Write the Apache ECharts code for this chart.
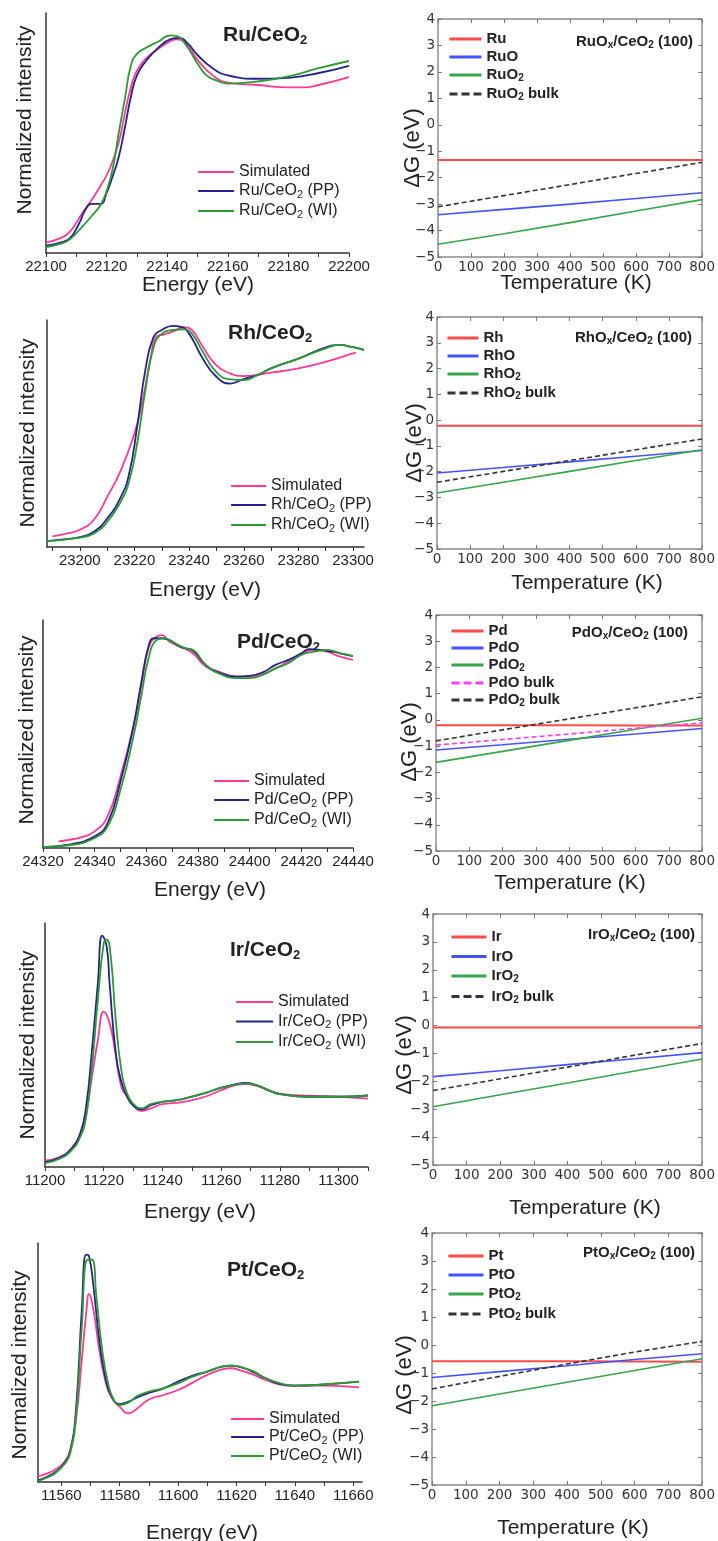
<!DOCTYPE html>
<html>
<head>
<meta charset="utf-8">
<script src="https://cdn.jsdelivr.net/npm/echarts@6/dist/echarts.min.js"></script>
<style>
html, body { margin: 0; padding: 0; background: #fff; }
#chart { width: 718px; height: 1541px; }
</style>
</head>
<body>
<div id="chart"></div>
<script>
// ---------- XANES spectra (left column), [energy, normalized intensity] ----------
const ruSim = [[22100,0.044],[22105,0.063],[22108,0.09],[22112,0.167],[22115,0.22],[22118,0.28],[22121,0.35],[22124,0.46],[22126,0.58],[22128,0.69],[22130,0.76],[22133,0.81],[22137,0.85],[22140,0.875],[22143,0.89],[22146,0.875],[22150,0.805],[22155,0.74],[22160,0.71],[22170,0.70],[22180,0.69],[22185,0.69],[22190,0.70],[22200,0.733]];
const ruPP  = [[22100,0.031],[22105,0.044],[22108,0.063],[22111,0.125],[22113,0.18],[22115,0.205],[22118,0.205],[22120,0.25],[22122,0.32],[22124,0.40],[22126,0.52],[22128,0.65],[22130,0.74],[22133,0.80],[22137,0.855],[22141,0.89],[22144,0.896],[22147,0.87],[22150,0.825],[22155,0.77],[22160,0.74],[22170,0.726],[22180,0.73],[22190,0.75],[22200,0.78]];
const ruWI  = [[22100,0.025],[22105,0.039],[22108,0.058],[22112,0.11],[22115,0.153],[22118,0.2],[22120,0.257],[22122,0.35],[22124,0.5],[22126,0.64],[22128,0.78],[22130,0.83],[22133,0.855],[22137,0.88],[22141,0.907],[22143,0.905],[22146,0.87],[22150,0.79],[22153,0.74],[22157,0.715],[22160,0.706],[22170,0.715],[22180,0.736],[22190,0.77],[22200,0.8]];

const rhSim = [[23190,0.047],[23195,0.059],[23200,0.076],[23205,0.118],[23210,0.22],[23215,0.338],[23220,0.5],[23223,0.647],[23226,0.838],[23228,0.926],[23231,0.937],[23234,0.949],[23238,0.968],[23241,0.956],[23245,0.882],[23250,0.80],[23255,0.765],[23260,0.753],[23270,0.768],[23280,0.787],[23290,0.816],[23300,0.853],[23301,0.856]];
const rhPP  = [[23188,0.026],[23195,0.035],[23200,0.044],[23205,0.066],[23210,0.125],[23215,0.22],[23218,0.32],[23221,0.53],[23224,0.78],[23227,0.926],[23230,0.956],[23234,0.974],[23237,0.97],[23240,0.94],[23245,0.83],[23250,0.75],[23255,0.72],[23260,0.74],[23265,0.757],[23270,0.787],[23280,0.83],[23290,0.88],[23295,0.89],[23300,0.88],[23304,0.868]];
const rhWI  = [[23188,0.026],[23200,0.041],[23205,0.059],[23210,0.11],[23215,0.2],[23218,0.287],[23221,0.456],[23224,0.69],[23227,0.88],[23230,0.94],[23234,0.956],[23238,0.959],[23241,0.94],[23245,0.86],[23250,0.77],[23255,0.738],[23260,0.735],[23265,0.757],[23270,0.787],[23280,0.83],[23290,0.875],[23295,0.89],[23300,0.88],[23304,0.868]];

const pdSim = [[24326,0.029],[24330,0.036],[24335,0.048],[24340,0.073],[24345,0.139],[24350,0.314],[24355,0.533],[24358,0.708],[24361,0.883],[24364,0.927],[24366,0.934],[24369,0.905],[24373,0.883],[24378,0.854],[24383,0.796],[24388,0.774],[24395,0.752],[24400,0.752],[24405,0.763],[24410,0.788],[24415,0.818],[24420,0.85],[24425,0.869],[24430,0.861],[24435,0.839],[24440,0.825]];
const pdPP  = [[24320,0.004],[24330,0.015],[24340,0.051],[24345,0.109],[24350,0.292],[24355,0.533],[24358,0.723],[24361,0.891],[24363,0.92],[24366,0.92],[24369,0.912],[24373,0.883],[24378,0.865],[24383,0.803],[24388,0.77],[24395,0.752],[24400,0.755],[24405,0.77],[24410,0.803],[24415,0.825],[24420,0.854],[24423,0.872],[24430,0.865],[24435,0.854],[24440,0.842]];
const pdWI  = [[24320,0.004],[24330,0.012],[24340,0.044],[24345,0.095],[24350,0.255],[24355,0.489],[24358,0.664],[24361,0.839],[24364,0.912],[24367,0.92],[24370,0.905],[24375,0.876],[24378,0.869],[24383,0.803],[24388,0.766],[24395,0.745],[24400,0.745],[24405,0.759],[24410,0.788],[24415,0.81],[24420,0.847],[24425,0.861],[24430,0.869],[24435,0.854],[24440,0.842]];

const irSim = [[11200,0.027],[11205,0.041],[11209,0.075],[11212,0.137],[11214,0.219],[11216,0.37],[11218,0.52],[11220,0.637],[11222,0.589],[11224,0.466],[11226,0.329],[11228,0.288],[11230,0.253],[11233,0.23],[11236,0.24],[11240,0.258],[11245,0.263],[11250,0.274],[11255,0.29],[11260,0.315],[11265,0.336],[11268,0.34],[11272,0.333],[11276,0.315],[11280,0.301],[11290,0.292],[11300,0.288],[11310,0.28]];
const irPP  = [[11200,0.021],[11205,0.038],[11209,0.075],[11212,0.137],[11214,0.247],[11216,0.479],[11218,0.753],[11219.5,0.948],[11221,0.904],[11222,0.753],[11224,0.479],[11226,0.349],[11228,0.288],[11230,0.253],[11233,0.236],[11236,0.253],[11240,0.267],[11245,0.274],[11250,0.288],[11255,0.305],[11260,0.325],[11265,0.34],[11268,0.345],[11272,0.336],[11276,0.315],[11280,0.299],[11290,0.288],[11300,0.288],[11310,0.293]];
const irWI  = [[11200,0.016],[11205,0.034],[11209,0.068],[11212,0.123],[11214,0.205],[11216,0.41],[11218,0.685],[11220,0.918],[11221,0.932],[11222.5,0.849],[11224,0.616],[11226,0.397],[11228,0.301],[11230,0.26],[11233,0.24],[11236,0.258],[11240,0.267],[11245,0.274],[11250,0.288],[11255,0.305],[11260,0.325],[11265,0.338],[11268,0.342],[11272,0.336],[11276,0.315],[11280,0.299],[11290,0.288],[11300,0.288],[11310,0.293]];

const ptSim = [[11552,0.024],[11555,0.035],[11558,0.052],[11561,0.084],[11563,0.133],[11565,0.259],[11567,0.51],[11568.5,0.706],[11569.5,0.787],[11571,0.72],[11573,0.552],[11575,0.427],[11577,0.357],[11580,0.315],[11583,0.287],[11586,0.308],[11590,0.345],[11595,0.364],[11600,0.385],[11605,0.416],[11610,0.448],[11615,0.471],[11618,0.476],[11622,0.465],[11626,0.448],[11630,0.427],[11635,0.408],[11640,0.403],[11650,0.403],[11662,0.396]];
const ptPP  = [[11552,0.007],[11555,0.021],[11558,0.042],[11561,0.077],[11563,0.126],[11565,0.301],[11567,0.72],[11568.5,0.951],[11569.5,0.944],[11571,0.818],[11573,0.594],[11575,0.441],[11577,0.364],[11580,0.326],[11583,0.336],[11586,0.354],[11590,0.373],[11595,0.392],[11600,0.42],[11605,0.445],[11610,0.462],[11615,0.483],[11618,0.487],[11622,0.478],[11626,0.458],[11630,0.434],[11635,0.41],[11640,0.403],[11650,0.408],[11662,0.42]];
const ptWI  = [[11552,0.004],[11555,0.018],[11558,0.038],[11561,0.074],[11563,0.119],[11565,0.273],[11567,0.65],[11569,0.93],[11570.5,0.93],[11572,0.776],[11574,0.552],[11576,0.413],[11578,0.343],[11580,0.322],[11583,0.332],[11586,0.36],[11590,0.378],[11595,0.392],[11600,0.413],[11605,0.441],[11610,0.462],[11615,0.483],[11618,0.487],[11622,0.48],[11626,0.462],[11630,0.434],[11635,0.413],[11640,0.403],[11650,0.408],[11662,0.42]];

// x tick labels of the spectra
const ruLabels = [22100, 22120, 22140, 22160, 22180, 22200];
const rhLabels = [23200, 23220, 23240, 23260, 23280, 23300];
const pdLabels = [24320, 24340, 24360, 24380, 24400, 24420, 24440];
const irLabels = [11200, 11220, 11240, 11260, 11280, 11300];
const ptLabels = [11560, 11580, 11600, 11620, 11640, 11660];

// ---------- Free energy vs temperature (right column), ΔG in eV ----------
const temps = [0, 200, 400, 600, 800];
const gRu     = [-1.33, -1.33, -1.33, -1.33, -1.33];
const gRuO    = [-3.40, -3.20, -3.00, -2.79, -2.57];
const gRuO2   = [-4.52, -4.12, -3.70, -3.26, -2.83];
const gRuO2b  = [-3.10, -2.68, -2.26, -1.84, -1.42];
const gRh     = [-0.22, -0.22, -0.22, -0.22, -0.22];
const gRhO    = [-2.05, -1.84, -1.62, -1.40, -1.18];
const gRhO2   = [-2.83, -2.41, -1.99, -1.57, -1.15];
const gRhO2b  = [-2.41, -1.99, -1.57, -1.15, -0.73];
const gPd     = [-0.20, -0.20, -0.20, -0.21, -0.21];
const gPdO    = [-1.15, -0.95, -0.74, -0.54, -0.33];
const gPdO2   = [-1.62, -1.20, -0.78, -0.36, 0.06];
const gPdOb   = [-0.96, -0.75, -0.54, -0.32, -0.11];
const gPdO2b  = [-0.80, -0.38, 0.04, 0.46, 0.88];
const gIr     = [-0.07, -0.07, -0.07, -0.07, -0.07];
const gIrO    = [-1.83, -1.62, -1.40, -1.19, -0.97];
const gIrO2   = [-2.91, -2.48, -2.06, -1.63, -1.20];
const gIrO2b  = [-2.33, -1.91, -1.49, -1.06, -0.64];
const gPt     = [-0.58, -0.58, -0.58, -0.59, -0.60];
const gPtO    = [-1.16, -0.95, -0.74, -0.52, -0.31];
const gPtO2   = [-2.17, -1.75, -1.33, -0.91, -0.49];
const gPtO2b  = [-1.57, -1.12, -0.68, -0.25, 0.13];

const FONT = '"Liberation Sans", Arial, sans-serif';
const MPL = '"DejaVu Sans", sans-serif';
const C_SIM = '#ff3a94', C_PP = '#23238a', C_WI = '#2e9a34';
const C_R = '#ff4a4a', C_B = '#4553ff', C_G = '#36a648', C_K = '#333', C_M = '#ff3cff';

// 'RuO2 bulk' -> rich text with subscript
const sub = s => '{n|' + s.replace(/O([2x])/g, 'O}{s|$1}{n|') + '}';
const range = (a, b, st) => { const r = []; for (let v = a; v <= b + 1e-9; v += st) r.push(v); return r; };

const leftPanels = [
  { el: 'Ru', grid: { left: 46, top: 13, width: 303, height: 240 }, min: 22100, max: 22200, ticks: range(22100, 22200, 10), labels: ruLabels, data: [ruSim, ruPP, ruWI], legend: { left: 197, top: 164, w: 36, gap: 3 } },
  { el: 'Rh', grid: { left: 47, top: 320, width: 317, height: 227 }, min: 23188, max: 23304, ticks: range(23190, 23300, 10), labels: rhLabels, data: [rhSim, rhPP, rhWI], legend: { left: 230, top: 478, w: 35, gap: 3 } },
  { el: 'Pd', grid: { left: 43, top: 620, width: 310, height: 228 }, min: 24320, max: 24440, ticks: range(24320, 24440, 10), labels: pdLabels, data: [pdSim, pdPP, pdWI], legend: { left: 213, top: 773, w: 35, gap: 3 } },
  { el: 'Ir', grid: { left: 45, top: 923, width: 323, height: 244 }, min: 11200, max: 11310, ticks: range(11200, 11310, 10), labels: irLabels, data: [irSim, irPP, irWI], legend: { left: 235, top: 994, w: 37, gap: 3.5 } },
  { el: 'Pt', grid: { left: 38, top: 1243, width: 324, height: 239 }, min: 11552, max: 11663, ticks: range(11560, 11660, 10), labels: ptLabels, data: [ptSim, ptPP, ptWI], legend: { left: 230, top: 1411, w: 33, gap: 2 } }
];

const rightPanels = [
  { el: 'Ru', grid: { left: 438, top: 19, width: 265, height: 238 }, lines: [gRu, gRuO, gRuO2, gRuO2b], legend: { left: 448, top: 31.5, w: 32, gap: 3 } },
  { el: 'Rh', grid: { left: 437, top: 317, width: 266, height: 232 }, lines: [gRh, gRhO, gRhO2, gRhO2b], legend: { left: 446, top: 330.5, w: 31, gap: 3 } },
  { el: 'Pd', grid: { left: 436, top: 615, width: 267, height: 236 }, lines: [gPd, gPdO, gPdO2, gPdOb, gPdO2b], legend: { left: 450, top: 623.5, w: 32, gap: 2 } },
  { el: 'Ir', grid: { left: 433, top: 914, width: 271, height: 251 }, lines: [gIr, gIrO, gIrO2, gIrO2b], legend: { left: 450, top: 929.5, w: 35, gap: 4.5 } },
  { el: 'Pt', grid: { left: 432, top: 1233, width: 272, height: 252 }, lines: [gPt, gPtO, gPtO2, gPtO2b], legend: { left: 447, top: 1248.5, w: 35, gap: 4 } }
];

const grid = [], xAxis = [], yAxis = [], series = [], legend = [], graphic = [];

leftPanels.forEach(p => {
  const gi = grid.length;
  grid.push(Object.assign({ containLabel: false }, p.grid));
  const xi = xAxis.length, yi = yAxis.length;
  xAxis.push({
    type: 'value', gridIndex: gi, min: p.min, max: p.max,
    axisLine: { onZero: false, lineStyle: { color: '#333', width: 1.5 } },
    axisTick: { show: true, length: 4, lineStyle: { color: '#333', width: 1 }, customValues: p.ticks },
    axisLabel: { customValues: p.labels, formatter: v => String(v), fontFamily: FONT, fontSize: 15, color: '#222', margin: 6 },
    splitLine: { show: false }
  });
  yAxis.push({
    type: 'value', gridIndex: gi, min: 0, max: 1,
    axisLine: { show: true, onZero: false, lineStyle: { color: '#333', width: 1.5 } },
    axisTick: { show: false }, axisLabel: { show: false }, splitLine: { show: false }
  });
  const names = ['Simulated', p.el + '/CeO2 (PP)', p.el + '/CeO2 (WI)'];
  const cols = [C_SIM, C_PP, C_WI];
  p.data.forEach((d, k) => {
    series.push({
      type: 'line', name: names[k], xAxisIndex: xi, yAxisIndex: yi, data: d,
      symbol: 'none', smooth: 0.5,
      lineStyle: { color: cols[k], width: 1.8 }, itemStyle: { color: cols[k] }, z: 2 + k
    });
  });
  legend.push({
    orient: 'vertical', left: p.legend.left, top: p.legend.top, padding: 0,
    itemWidth: p.legend.w, itemHeight: 12, itemGap: p.legend.gap,
    selectedMode: false, data: names, formatter: sub,
    itemStyle: { opacity: 0 },
    lineStyle: { width: 2.2 },
    textStyle: {
      fontFamily: FONT,
      rich: {
        n: { fontFamily: FONT, fontSize: 16, color: '#222', lineHeight: 18 },
        s: { fontFamily: FONT, fontSize: 11, color: '#222', lineHeight: 8, verticalAlign: 'bottom' }
      }
    }
  });
});

rightPanels.forEach(p => {
  const gi = grid.length;
  grid.push(Object.assign({ backgroundColor: 'transparent' }, p.grid));
  const xi = xAxis.length, yi = yAxis.length;
  const tickIn = { show: true, inside: true, length: 4, lineStyle: { color: '#777', width: 1 } };
  const frame = { show: true, onZero: false, lineStyle: { color: '#8c8c8c', width: 1.5 } };
  xAxis.push({
    type: 'value', gridIndex: gi, min: 0, max: 800, interval: 100, position: 'bottom',
    axisLine: frame, axisTick: tickIn,
    axisLabel: { fontFamily: MPL, fontSize: 13.5, color: '#333', margin: 3, formatter: v => String(v) },
    splitLine: { show: false }
  });
  xAxis.push({
    type: 'value', gridIndex: gi, min: 0, max: 800, interval: 100, position: 'top',
    axisLine: frame, axisTick: tickIn, axisLabel: { show: false }, splitLine: { show: false }
  });
  yAxis.push({
    type: 'value', gridIndex: gi, min: -5, max: 4, interval: 1, position: 'left',
    axisLine: frame, axisTick: tickIn,
    axisLabel: { fontFamily: MPL, fontSize: 13.5, color: '#333', margin: 3, formatter: v => (v < 0 ? '\u2212' + (-v) : String(v)) },
    splitLine: { show: false }
  });
  yAxis.push({
    type: 'value', gridIndex: gi, min: -5, max: 4, interval: 1, position: 'right',
    axisLine: frame, axisTick: tickIn, axisLabel: { show: false }, splitLine: { show: false }
  });
  const isPd = p.lines.length === 5;
  const names = isPd
    ? ['Pd', 'PdO', 'PdO2', 'PdO bulk', 'PdO2 bulk']
    : [p.el, p.el + 'O', p.el + 'O2', p.el + 'O2 bulk'];
  const cols = isPd ? [C_R, C_B, C_G, C_M, C_K] : [C_R, C_B, C_G, C_K];
  names.forEach((nm, k) => {
    const dashed = nm.indexOf('bulk') >= 0;
    series.push({
      type: 'line', name: nm, xAxisIndex: xi, yAxisIndex: yi,
      data: temps.map((t, j) => [t, p.lines[k][j]]),
      symbol: 'none', smooth: false,
      lineStyle: { color: cols[k], width: k === 0 ? 2 : 1.6, type: dashed ? [5, 3] : 'solid' },
      itemStyle: { color: cols[k] }, z: 2 + k
    });
  });
  legend.push({
    orient: 'vertical', left: p.legend.left, top: p.legend.top, padding: 0,
    itemWidth: p.legend.w, itemHeight: 10, itemGap: p.legend.gap,
    selectedMode: false, formatter: sub,
    data: names.map(nm => nm.indexOf('bulk') >= 0
      ? { name: nm, lineStyle: { width: 3, type: [8, 4] } }
      : { name: nm }),
    itemStyle: { opacity: 0 },
    lineStyle: { width: 3 },
    textStyle: {
      fontFamily: FONT,
      rich: {
        n: { fontFamily: FONT, fontSize: 15, fontWeight: 'bold', color: '#222', lineHeight: 17 },
        s: { fontFamily: FONT, fontSize: 10, fontWeight: 'bold', color: '#222', lineHeight: 7, verticalAlign: 'bottom' }
      }
    }
  });
});

// ---------- texts: titles, axis names, annotations ----------
const txt = (text, x, y, size, opt) => Object.assign({
  type: 'text', x: x, y: y, silent: true,
  style: Object.assign({
    text: text, fill: '#222', fontFamily: FONT, fontSize: size,
    textAlign: 'center', textVerticalAlign: 'middle'
  }, (opt && opt.style) || {})
}, (opt && opt.el) || {});

const titleRich = {
  n: { fontFamily: FONT, fontSize: 21, fontWeight: 'bold', fill: '#222', lineHeight: 24 },
  s: { fontFamily: FONT, fontSize: 13, fontWeight: 'bold', fill: '#222', lineHeight: 9, verticalAlign: 'bottom' }
};
const annRich = {
  n: { fontFamily: FONT, fontSize: 15, fontWeight: 'bold', fill: '#222', lineHeight: 17 },
  s: { fontFamily: FONT, fontSize: 10, fontWeight: 'bold', fill: '#222', lineHeight: 7, verticalAlign: 'bottom' }
};

const titles = [['Ru/CeO2', 223, 35], ['Rh/CeO2', 228, 333], ['Pd/CeO2', 237, 642], ['Ir/CeO2', 230, 950], ['Pt/CeO2', 227, 1270]];
titles.forEach(t => graphic.push(txt(sub(t[0]), t[1], t[2], 21, { style: { textAlign: 'left', rich: titleRich } })));

const energyPos = [[198, 285], [205, 590], [210, 890], [200, 1212], [202, 1533]];
energyPos.forEach(p => graphic.push(txt('Energy (eV)', p[0], p[1], 21)));

const intensPos = [[25, 120], [28, 433], [27, 730], [28, 1045], [20, 1365]];
intensPos.forEach(p => graphic.push(txt('Normalized intensity', p[0], p[1], 21, { el: { rotation: Math.PI / 2 } })));

const tempPos = [[576, 283], [587, 583], [570, 883], [585, 1208], [573, 1528]];
tempPos.forEach(p => graphic.push(txt('Temperature (K)', p[0], p[1], 21)));

const dgPos = [[413, 148], [415, 443], [410, 742], [405, 1055], [405, 1375]];
dgPos.forEach(p => graphic.push(txt('\u0394G (eV)', p[0], p[1], 22, { el: { rotation: Math.PI / 2 } })));

const annots = [['RuOx/CeO2 (100)', 693, 42], ['RhOx/CeO2 (100)', 692, 338], ['PdOx/CeO2 (100)', 688, 633], ['IrOx/CeO2 (100)', 695, 935], ['PtOx/CeO2 (100)', 695, 1253]];
annots.forEach(a => graphic.push(txt(sub(a[0]), a[1], a[2], 15, { style: { textAlign: 'right', rich: annRich } })));

const chart = echarts.init(document.getElementById('chart'), null, { renderer: 'canvas' });
chart.setOption({
  backgroundColor: '#fff',
  animation: false,
  grid, xAxis, yAxis, series, legend, graphic
});
</script>
</body>
</html>
